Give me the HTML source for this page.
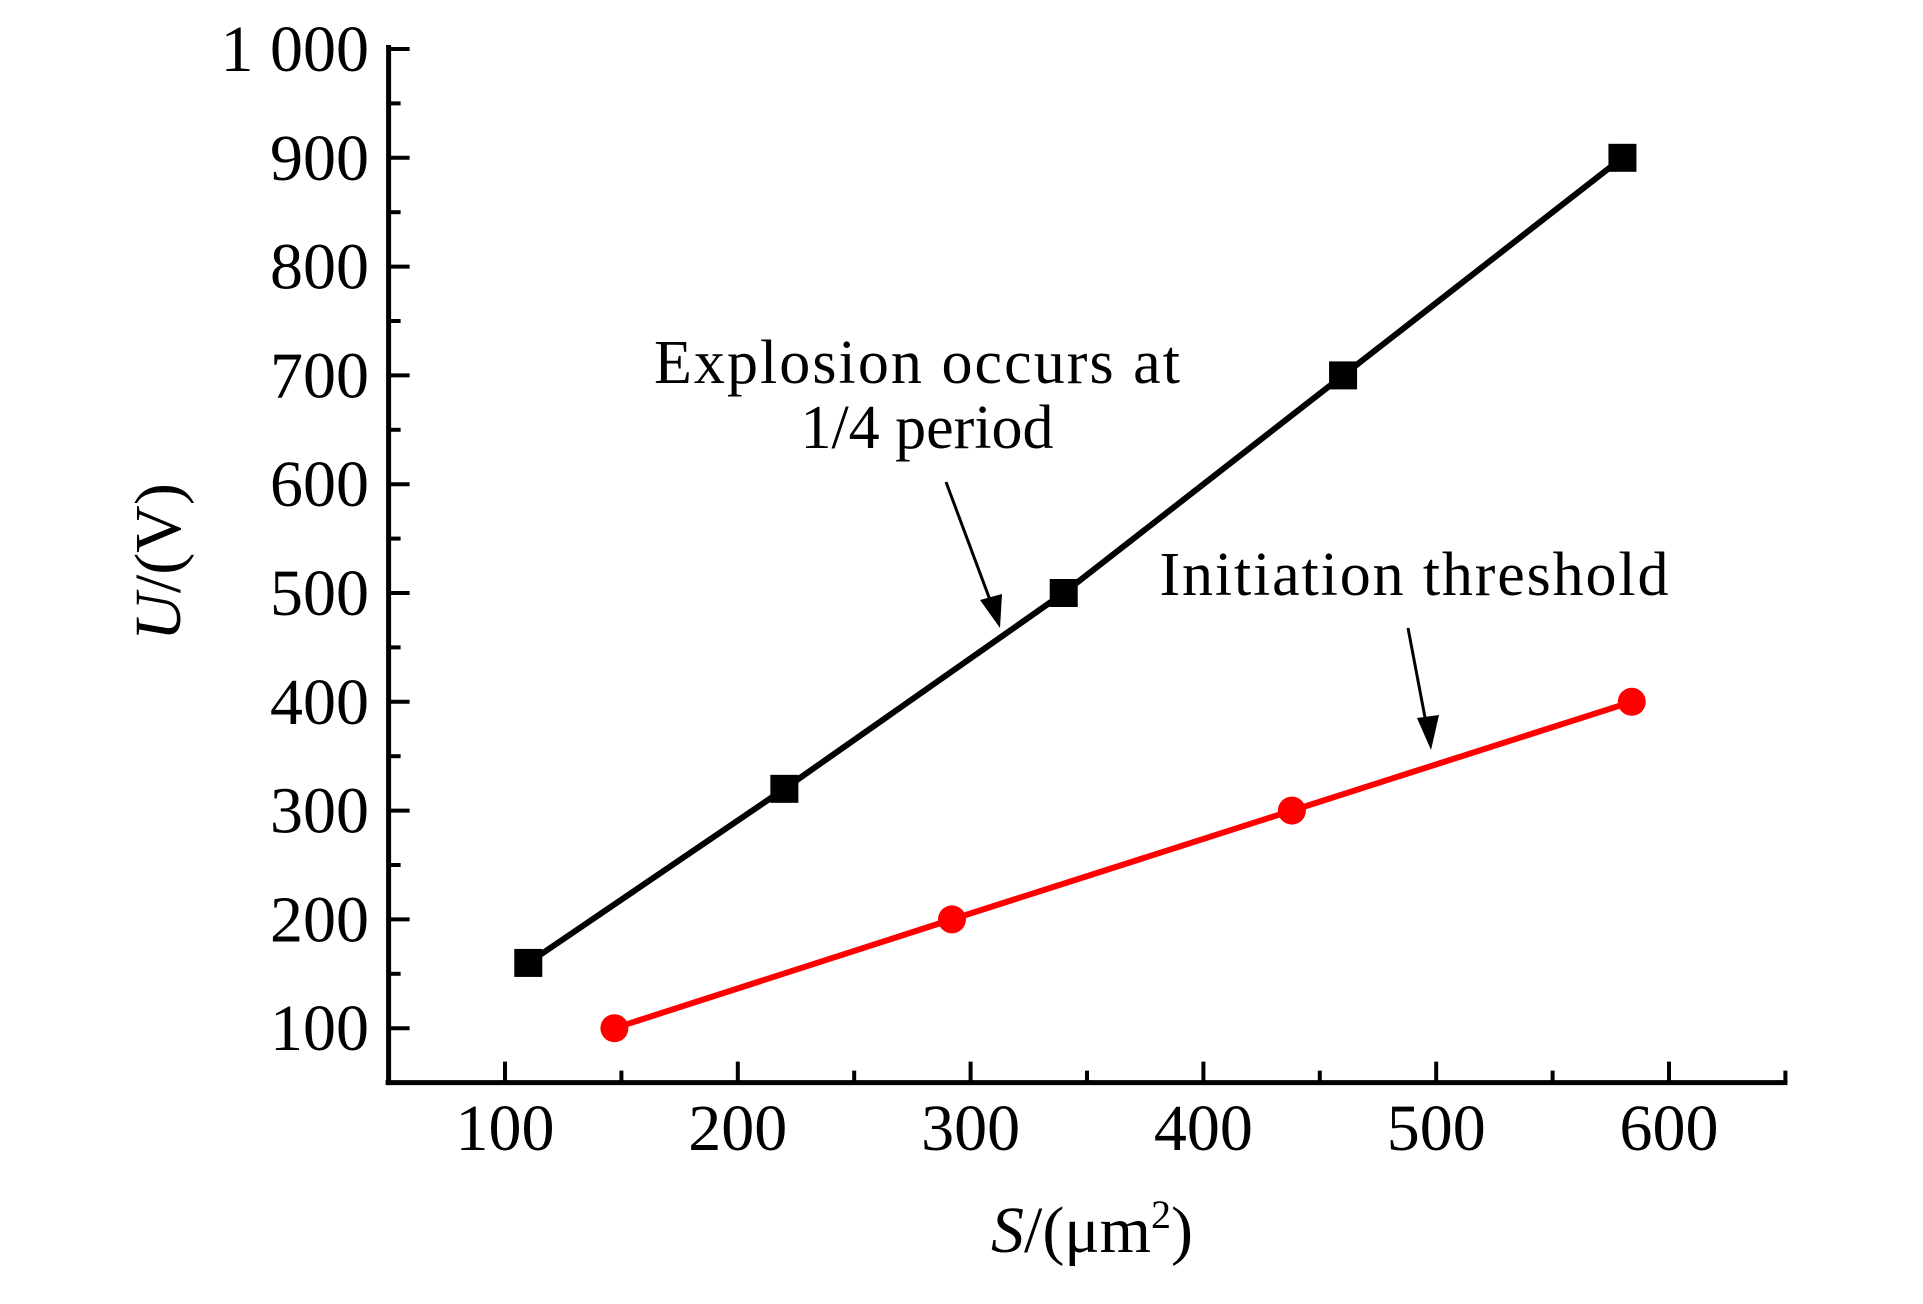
<!DOCTYPE html>
<html><head><meta charset="utf-8"><style>
html,body{margin:0;padding:0;background:#fff;}
svg text{font-family:"Liberation Serif",serif;fill:#000;}
</style></head><body>
<svg id="chart" width="1923" height="1299" viewBox="0 0 1923 1299" xmlns="http://www.w3.org/2000/svg">
<g id="axes"></g>
<g id="series"></g>
<text transform="translate(180,562) rotate(-90)" text-anchor="middle" font-size="66"><tspan font-style="italic">U</tspan>/(V)</text>
<text x="1092" y="1252" text-anchor="middle" font-size="66"><tspan font-style="italic">S</tspan>/(μm<tspan font-size="40" dy="-24">2</tspan><tspan dy="24">)</tspan></text>
<text x="917" y="383" text-anchor="middle" font-size="62" textLength="526">Explosion occurs at</text>
<text x="927" y="448" text-anchor="middle" font-size="62">1/4 period</text>
<text x="1414" y="595" text-anchor="middle" font-size="62" textLength="509">Initiation threshold</text>
<g>
<line x1="946" y1="482" x2="993" y2="608" stroke="#000" stroke-width="3"/>
<polygon points="1000,628 980,600 1002,594" fill="#000"/>
</g>
<g>
<line x1="1408" y1="628" x2="1427" y2="728" stroke="#000" stroke-width="3"/>
<polygon points="1431,750 1417,718 1439,715" fill="#000"/>
</g>
</svg>
<script>
const xTicks=[100,200,300,400,500,600];
const yTicks=[100,200,300,400,500,600,700,800,900,1000];
const yTickLabels=["100","200","300","400","500","600","700","800","900","1 000"];
const explosionS=[110,220,340,460,580];
const explosionU=[160,320,500,700,900];
const thresholdS=[147,292,438,584];
const thresholdU=[100,200,300,400];
const NS="http://www.w3.org/2000/svg";
const X=v=>505+(v-100)*2.328;
const Y=v=>49+(1000-v)*1.088;
function mk(tag,attrs,parent){const e=document.createElementNS(NS,tag);for(const k in attrs)e.setAttribute(k,attrs[k]);parent.appendChild(e);return e;}
const ax=document.getElementById('axes');
const xa=mk('line',{x1:X(50)-3,y1:Y(50),x2:X(650)+2,y2:Y(50),stroke:'#000','stroke-width':5},ax);


const ya=mk('line',{x1:X(50),y1:Y(50)+2,x2:X(50),y2:Y(1000)-4,stroke:'#000','stroke-width':5},ax);


for(let v=50;v<=650;v+=50){const major=v%100===0;const t=mk('line',{x1:X(v),y1:Y(50),x2:X(v),y2:Y(50)-(major?21:12),stroke:'#000','stroke-width':4},ax);

}
for(let v=50;v<=1000;v+=50){const major=v%100===0;const t=mk('line',{x1:X(50),y1:Y(v),x2:X(50)+(major?21:12),y2:Y(v),stroke:'#000','stroke-width':4},ax);

}
xTicks.forEach(v=>{const t=mk('text',{x:X(v),y:1150,'text-anchor':'middle','font-size':66},ax);t.textContent=String(v);

});
yTicks.forEach((v,i)=>{const t=mk('text',{x:369,y:Y(v)+22,'text-anchor':'end','font-size':66},ax);t.textContent=yTickLabels[i];

});
const sg=document.getElementById('series');
const p1=mk('polyline',{points:explosionS.map((s,i)=>X(s)+','+Y(explosionU[i])).join(' '),fill:'none',stroke:'#000','stroke-width':6},sg);


explosionS.forEach((s,i)=>{const r=mk('rect',{x:X(s)-14,y:Y(explosionU[i])-14,width:28,height:28,fill:'#000'},sg);

});
const p2=mk('polyline',{points:thresholdS.map((s,i)=>X(s)+','+Y(thresholdU[i])).join(' '),fill:'none',stroke:'#ff0000','stroke-width':6},sg);


thresholdS.forEach((s,i)=>{const c=mk('circle',{cx:X(s),cy:Y(thresholdU[i]),r:14,fill:'#ff0000'},sg);

});
</script>
</body></html>
